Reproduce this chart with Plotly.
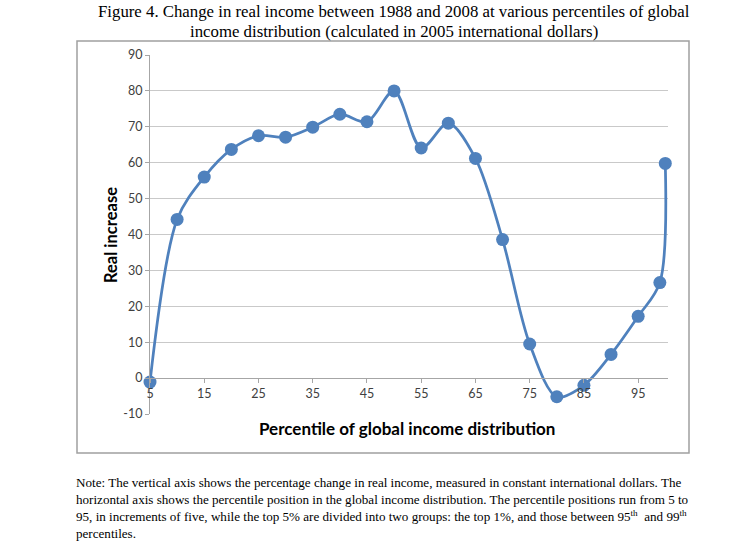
import plotly.graph_objects as go

# ---- data ----
percentiles = [5, 10, 15, 20, 25, 30, 35, 40, 45, 50, 55, 60, 65, 70, 75, 80, 85, 90, 95, 99, 100]
real_increase = [-1.1, 44.2, 56.0, 63.7, 67.5, 67.1, 69.9, 73.5, 71.4, 80.0, 64.1, 71.0, 61.2, 38.6, 9.5, -5.2, -2.0, 6.6, 17.2, 26.6, 59.8]
x_tick_values = [5, 15, 25, 35, 45, 55, 65, 75, 85, 95]
y_tick_values = [-10, 0, 10, 20, 30, 40, 50, 60, 70, 80, 90]
y_tick_labels = ["-10", "0", "10", "20", "30", "40", "50", "60", "70", "80", "90"]

title_line1 = "Figure 4. Change in real income between 1988 and 2008 at various percentiles of global"
title_line2 = "income distribution (calculated in 2005 international dollars)"
x_title = "Percentile of global income distribution"
y_title = "Real increase"
note_text = ("Note: The vertical axis shows the percentage change in real income, measured in constant international dollars. The"
             "<br>horizontal axis shows the percentile position in the global income distribution. The percentile positions run from 5 to"
             "<br>95, in increments of five, while the top 5% are divided into two groups: the top 1%, and those between 95<sup>th</sup>  and 99<sup>th</sup>"
             "<br>percentiles.")

W, H = 735, 544
L, R, T, B = 150, 668, 55, 414  # plot area pixels
pw, ph = R - L, B - T

def px_x(p):
    return (p - L) / pw

def px_y(p):
    return (B - p) / ph

blue = "#4F81BD"
grid = "#c9c9c9"
axis_gray = "#a6a6a6"
sans = "Lato, 'Open Sans', sans-serif"
serif = "'Liberation Serif', 'Times New Roman', serif"

fig = go.Figure()
fig.add_trace(go.Scatter(
    x=percentiles, y=real_increase, mode="lines+markers",
    line=dict(color=blue, width=2.75, shape="spline", smoothing=0.9),
    marker=dict(color=blue, size=13),
    cliponaxis=False, showlegend=False, hoverinfo="x+y",
))

fig.update_layout(
    width=W, height=H,
    margin=dict(l=L, r=W - R, t=T, b=H - B, pad=0),
    paper_bgcolor="white", plot_bgcolor="white",
    xaxis=dict(range=[5, 100.5], tickvals=x_tick_values, showgrid=False, zeroline=False,
               showline=True, linecolor=axis_gray, linewidth=1,
               ticks="outside", ticklen=4, tickcolor=axis_gray,
               anchor="free", position=0.1,
               tickfont=dict(family=sans, size=12.5, color="#404040")),
    yaxis=dict(range=[-10, 90], tickvals=y_tick_values, ticktext=y_tick_labels,
               showgrid=True, gridcolor=grid,
               gridwidth=1, zeroline=False, showline=True, linecolor=axis_gray, linewidth=1,
               ticks="outside", ticklen=4, tickcolor=axis_gray,
               tickfont=dict(family=sans, size=12.5, color="#404040")),
)

fig.add_shape(type="rect", xref="paper", yref="paper",
              x0=px_x(77), x1=px_x(689), y0=px_y(453), y1=px_y(41),
              line=dict(color="#a0a0a0", width=1.5), fillcolor="rgba(0,0,0,0)", layer="below")

fig.add_annotation(text=title_line1, xref="paper", yref="paper", x=px_x(394), y=px_y(11.5),
                   xanchor="center", yanchor="middle", showarrow=False,
                   font=dict(family=serif, size=16.8, color="black"))
fig.add_annotation(text=title_line2, xref="paper", yref="paper", x=px_x(394), y=px_y(31.5),
                   xanchor="center", yanchor="middle", showarrow=False,
                   font=dict(family=serif, size=16.8, color="black"))
fig.add_annotation(text=x_title, xref="paper", yref="paper", x=px_x(407), y=px_y(428),
                   xanchor="center", yanchor="middle", showarrow=False,
                   font=dict(family=sans, size=17, color="black", weight="bold"))
fig.add_annotation(text=y_title, xref="paper", yref="paper", x=px_x(111), y=px_y(235),
                   xanchor="center", yanchor="middle", showarrow=False, textangle=-90,
                   font=dict(family=sans, size=16.5, color="black", weight="bold"))
fig.add_annotation(text=note_text, xref="paper", yref="paper", x=px_x(74), y=px_y(473),
                   xanchor="left", yanchor="top", align="left", showarrow=False,
                   font=dict(family=serif, size=13.1, color="black"))

fig.write_html("out.html", config={"displayModeBar": False},
               post_script="document.body.style.margin='0';document.body.style.overflow='hidden';")
